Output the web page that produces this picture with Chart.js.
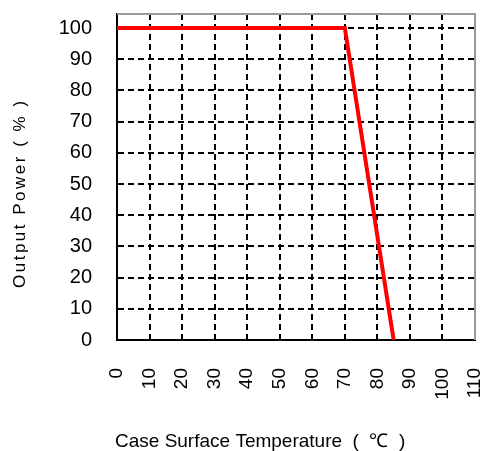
<!DOCTYPE html>
<html>
<head>
<meta charset="utf-8">
<script src="https://cdn.jsdelivr.net/npm/chart.js@4/dist/chart.umd.min.js"></script>
<style>
  html, body { margin: 0; padding: 0; background: #fff; }
  #wrap { width: 484px; height: 451px; }
</style>
</head>
<body>
<div id="wrap"><canvas id="c" width="484" height="451"></canvas></div>
<script>
// ---- data ----
const temperature = [0, 70, 85];          // Case surface temperature (℃)
const outputPower = [100, 100, 0];        // Output power (%)
const xTicks = [0, 10, 20, 30, 40, 50, 60, 70, 80, 90, 100, 110];
const yTicks = [0, 10, 20, 30, 40, 50, 60, 70, 80, 90, 100];
const xTitle = 'Case Surface Temperature  (  ℃  )';
const yTitle = 'Output Power ( % )';

const points = temperature.map((t, i) => ({ x: t, y: outputPower[i] }));

const framePlugin = {
  id: 'frame',
  afterDraw(chart) {
    const { ctx, chartArea: a } = chart;
    ctx.save();
    // top & right frame (grey)
    ctx.strokeStyle = '#9a9a9a';
    ctx.lineWidth = 2;
    ctx.beginPath();
    ctx.moveTo(a.left, a.top);
    ctx.lineTo(a.right, a.top);
    ctx.lineTo(a.right, a.bottom);
    ctx.stroke();
    // axis titles
    ctx.fillStyle = '#000';
    ctx.font = '19px "Liberation Sans", Arial, sans-serif';
    ctx.textBaseline = 'alphabetic';
    ctx.textAlign = 'left';
    ctx.fillText(xTitle, 115, 447);
    ctx.translate(25, 288);
    ctx.rotate(-Math.PI / 2);
    ctx.font = '17px "Liberation Sans", Arial, sans-serif';
    try { ctx.letterSpacing = '2.5px'; } catch (e) {}
    ctx.fillText(yTitle, 0, 0);
    ctx.restore();
  }
};

new Chart(document.getElementById('c'), {
  type: 'line',
  data: {
    datasets: [{
      data: points,
      borderColor: '#ff0000',
      borderWidth: 4,
      pointRadius: 0,
      fill: false,
      tension: 0
    }]
  },
  options: {
    responsive: false,
    animation: false,
    layout: { padding: { top: 14, right: 9, left: 0, bottom: 0 } },
    plugins: { legend: { display: false }, tooltip: { enabled: false } },
    scales: {
      x: {
        type: 'linear',
        min: 0, max: 110,
        afterBuildTicks(s) { s.ticks = xTicks.map(v => ({ value: v })); },
        afterFit(s) { s.height = 111; s.paddingLeft = 0; s.paddingRight = 0; },
        ticks: {
          minRotation: 90, maxRotation: 90,
          padding: 28,
          color: '#000',
          font: { family: '"Liberation Sans", Arial, sans-serif', size: 19 },
          autoSkip: false
        },
        grid: {
          drawTicks: false,
          color: c => (c.tick && (c.tick.value === 0 || c.tick.value === 110)) ? 'rgba(0,0,0,0)' : '#000',
          lineWidth: 2
        },
        border: { display: true, color: '#000', width: 2, dash: [6, 4] }
      },
      y: {
        type: 'linear',
        min: 0, max: 104.5,
        afterBuildTicks(s) { s.ticks = yTicks.map(v => ({ value: v })); },
        afterFit(s) { s.width = 117; s.paddingTop = 0; s.paddingBottom = 0; },
        ticks: {
          padding: 25,
          color: '#000',
          font: { family: '"Liberation Sans", Arial, sans-serif', size: 20 },
          autoSkip: false
        },
        grid: {
          drawTicks: false,
          color: c => (c.tick && c.tick.value === 0) ? 'rgba(0,0,0,0)' : '#000',
          lineWidth: 2
        },
        border: { display: true, color: '#000', width: 2, dash: [6, 4] }
      }
    }
  },
  plugins: [framePlugin]
});
</script>
</body>
</html>
